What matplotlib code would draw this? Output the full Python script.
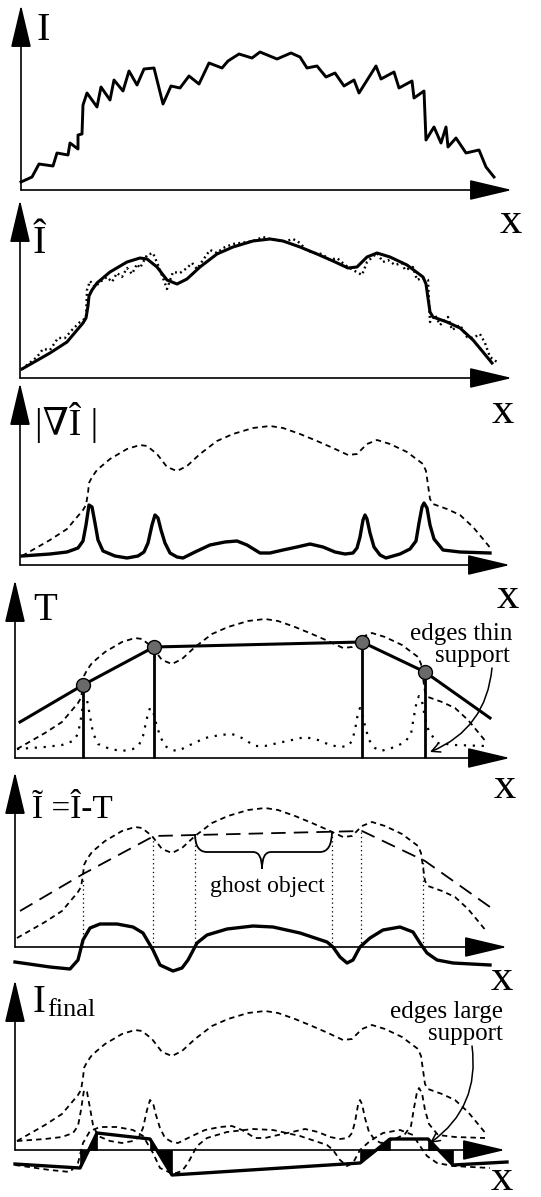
import matplotlib.pyplot as plt
from matplotlib.path import Path
from matplotlib.patches import PathPatch

plt.rcParams['font.family'] = ['Liberation Serif', 'DejaVu Serif']

W, H = 541, 1197

# raw intensity profile I(x) (panel 1), heights above the x axis
I_x = [0, 11, 18, 32, 36, 47, 49, 57, 57, 61, 62, 66, 76, 80, 89, 93, 102, 108, 116, 123,
       133, 142, 150, 159, 168, 178, 188, 201, 207, 218, 231, 239, 256, 270, 279, 286, 296,
       305, 314, 323, 333, 338, 355, 360, 373, 378, 391, 393, 403, 405, 413, 420, 425, 427,
       435, 445, 458, 465, 473]
I_y = [8, 13, 26, 24, 37, 35, 47, 41, 55, 56, 85, 97, 83, 103, 90, 110, 99, 119, 105, 121,
       122, 86, 104, 102, 114, 106, 127, 122, 129, 136, 132, 138, 131, 137, 133, 122, 124,
       113, 117, 104, 110, 97, 124, 111, 118, 102, 109, 92, 99, 50, 63, 47, 63, 43,
       52, 37, 40, 23, 13]

# noisy profile shown dotted under the smoothed one (panel 2)
In_x = [2, 17, 23, 30, 38, 45, 52, 60, 66, 67, 70, 75, 80, 87, 92, 97, 102, 107, 112, 117,
        120, 127, 133, 138, 143, 147, 153, 160, 167, 172, 177, 183, 190, 197, 203, 213, 220,
        227, 233, 243, 250, 257, 263, 273, 280, 287, 295, 302, 310, 317, 325, 333, 342, 347,
        357, 363, 368, 375, 382, 385, 393, 397, 402, 408, 410, 415, 420, 428, 432, 440, 447,
        453, 460, 465, 470, 477]
In_y = [9, 21, 29, 28, 40, 40, 48, 56, 60, 88, 97, 91, 96, 101, 96, 105, 101, 110, 104, 114,
        110, 123, 125, 113, 100, 89, 106, 105, 110, 115, 109, 118, 128, 125, 130, 134, 135,
        136, 137, 141, 139, 138, 136, 139, 135, 127, 125, 124, 118, 120, 113, 108, 103, 116,
        125, 116, 118, 113, 115, 108, 111, 98, 100, 98, 56, 63, 53, 61, 48, 53, 41,
        40, 44, 35, 21, 16]

# smoothed profile I-hat
Ih_x = [2, 30, 47, 63, 66, 68, 69, 72, 77, 90, 107, 120, 127, 137, 147, 157, 167, 180, 197, 213,
        233, 250, 263, 280, 297, 313, 328, 337, 347, 357, 370, 387, 403, 406, 408, 410, 413,
        427, 440, 453, 463, 472]
Ih_y = [9, 25, 36, 55, 60, 72, 82, 88, 95, 106, 116, 120, 119, 111, 98, 94, 99, 111, 124, 131,
        137, 139, 137, 131, 124, 117, 110, 111, 121, 125, 121, 113, 101, 94, 80, 66, 61,
        56, 50, 38, 26, 15]

# gradient magnitude |grad I-hat|
G_x = [2, 30, 47, 58, 63, 66, 69, 72, 75, 78, 83, 95, 107, 118, 124, 128, 132, 135, 138, 141,
       145, 150, 157, 163, 175, 190, 205, 217, 227, 240, 250, 263, 277, 290, 303, 315, 325,
       333, 337, 340, 343, 345, 347, 350, 354, 360, 366, 380, 390, 396, 399, 402, 404, 407,
       410, 414, 423, 440, 470]
G_y = [9, 11, 13, 17, 24, 40, 60, 58, 42, 25, 14, 9, 7, 9, 13, 22, 40, 50, 47, 35,
       22, 12, 8, 7, 13, 20, 23, 24, 20, 12, 12, 15, 18, 21, 18, 13, 11,
       12, 17, 28, 45, 50, 46, 32, 18, 10, 7, 11, 16, 24, 42, 58, 62, 57,
       40, 26, 15, 13, 12]

# piecewise linear trend T through the edge points
T_x = [5, 68, 139, 347, 410, 475]
T_y = [36, 73, 111, 116, 86, 40]

# residual I-tilde = I-hat - T
It_x = [0, 35, 55, 63, 68, 75, 85, 102, 118, 128, 138, 145, 158, 167, 173, 182, 192, 212, 238, 258,
        285, 312, 318, 325, 332, 338, 345, 355, 368, 385, 398, 405, 412, 422, 438, 475]
It_y = [-15, -20, -22, -13, 7, 19, 23, 23, 20, 14, -3, -18, -24, -21, -13, 4, 12, 18, 21, 20,
        14, 5, 0, -10, -16, -13, 0, 9, 17, 20, 15, 4, -6, -13, -16, -18]

# zero crossings of the residual and the height of T there
zc_x = [68, 138, 180, 317, 346, 408]
zc_top = [70, 110, 112, 117, 117, 85]

# final result
If_x = [0, 65, 82, 135, 157, 345, 375, 413, 438, 492]
If_y = [-14, -18, 17, 11, -25, -13, 11, 11, -15, -12]
ramps = [1, 3, 5, 7]

# curly brace over the ghost object
brace_pts = [(180, 113), (180, 95), (192, 95), (238, 95), (247, 95), (247, 78),
             (247, 95), (256, 95), (305, 95), (317, 95), (317, 116)]
brace_codes = [Path.MOVETO, Path.CURVE3, Path.CURVE3, Path.LINETO, Path.CURVE3, Path.CURVE3,
               Path.CURVE3, Path.CURVE3, Path.LINETO, Path.CURVE3, Path.CURVE3]

fig = plt.figure(figsize=(W / 100, H / 100), dpi=100)


def panel(x0, y0, ytip, xtip, xlab):
    ax = fig.add_axes([0, 0, 1, 1])
    ax.set_xlim(-x0, W - x0)
    ax.set_ylim(y0 - H, y0)
    ax.axis('off')
    hd = dict(arrowstyle='-|>,head_length=1.35,head_width=0.32', color='k', lw=1.2,
              mutation_scale=20, shrinkA=0, shrinkB=0)
    ax.annotate('', xy=(0, ytip), xytext=(0, 0), arrowprops=hd)
    ax.annotate('', xy=(xtip, 0), xytext=(0, 0), arrowprops=hd)
    ax.text(xlab[0], xlab[1], 'x', ha='center', fontsize=32)
    return ax


short = dict(color='k', lw=1.3, dashes=(3, 2.3))

# 1
ax = panel(21, 190, 185, 491, (490, -43))
ax.plot(I_x, I_y, color='k', lw=2.1)
ax.text(16, 150, 'I', fontsize=29)

# 2
ax = panel(20, 378, 178, 492, (483, -45))
ax.plot(In_x, In_y, color='k', lw=1.7, dashes=(0.8, 1.4))
ax.plot(Ih_x, Ih_y, color='k', lw=2.2)
ax.text(13, 125, 'Î', fontsize=29)

# 3
ax = panel(20, 565, 182, 490, (488, -43))
ax.plot(Ih_x, Ih_y, **short)
ax.plot(G_x, G_y, color='k', lw=2.4)
ax.text(15, 130, '|∇Î |', fontsize=27)

# 4
ax = panel(15, 758, 178, 495, (490, -40))
ax.plot(Ih_x, Ih_y, **short)
ax.plot(G_x, G_y, color='k', lw=1.6, dashes=(1, 3))
ax.vlines(T_x[1:5], 0, T_y[1:5], color='k', lw=2)
ax.plot(T_x, T_y, color='k', lw=2.2)
ax.plot(T_x[1:5], T_y[1:5], 'o', ms=10, mfc='#6a6a6a', mec='k', mew=1)
ax.text(18, 138, 'T', fontsize=28)
ax.text(497, 118, 'edges thin', ha='right', fontsize=18)
ax.text(495, 96, 'support', ha='right', fontsize=18)
ax.annotate('', xy=(415, 6), xytext=(477, 90),
            arrowprops=dict(arrowstyle='->,head_length=0.6,head_width=0.3', color='k',
                            lw=1.1, connectionstyle='arc3,rad=-0.3', shrinkA=0, shrinkB=0))

# 5
ax = panel(15, 947, 175, 492, (487, -43))
ax.plot(Ih_x, Ih_y, **short)
ax.plot(T_x, T_y, color='k', lw=1.3, dashes=(8, 4.5))
ax.vlines(zc_x, 0, zc_top, color='k', lw=0.9, linestyles=(0, (1, 2.5)))
ax.plot(It_x, It_y, color='k', lw=2.4)
ax.add_patch(PathPatch(Path(brace_pts, brace_codes), fc='none', ec='k', lw=1.3))
ax.text(252, 55, 'ghost object', ha='center', fontsize=17)
ax.text(17, 129, 'Ĩ =Î-T', fontsize=24)

# 6
ax = panel(15, 1150, 170, 490, (487, -40))
ax.plot(Ih_x, Ih_y, **short)
ax.plot(G_x, G_y, **short)
ax.plot(It_x, It_y, **short)
for i in ramps:
    ax.fill_between(If_x[i:i + 2], If_y[i:i + 2], 0, color='k', lw=0.5)
ax.plot(If_x, If_y, color='k', lw=2.4)
ax.text(18, 138, 'I', fontsize=28)
ax.text(32, 134, 'final', fontsize=19)
ax.text(488, 132, 'edges large', ha='right', fontsize=18)
ax.text(488, 110, 'support', ha='right', fontsize=18)
ax.annotate('', xy=(415, 7), xytext=(457, 104),
            arrowprops=dict(arrowstyle='->,head_length=0.6,head_width=0.3', color='k',
                            lw=1.1, connectionstyle='arc3,rad=-0.3', shrinkA=0, shrinkB=0))

fig.savefig('out.png', dpi=100)
